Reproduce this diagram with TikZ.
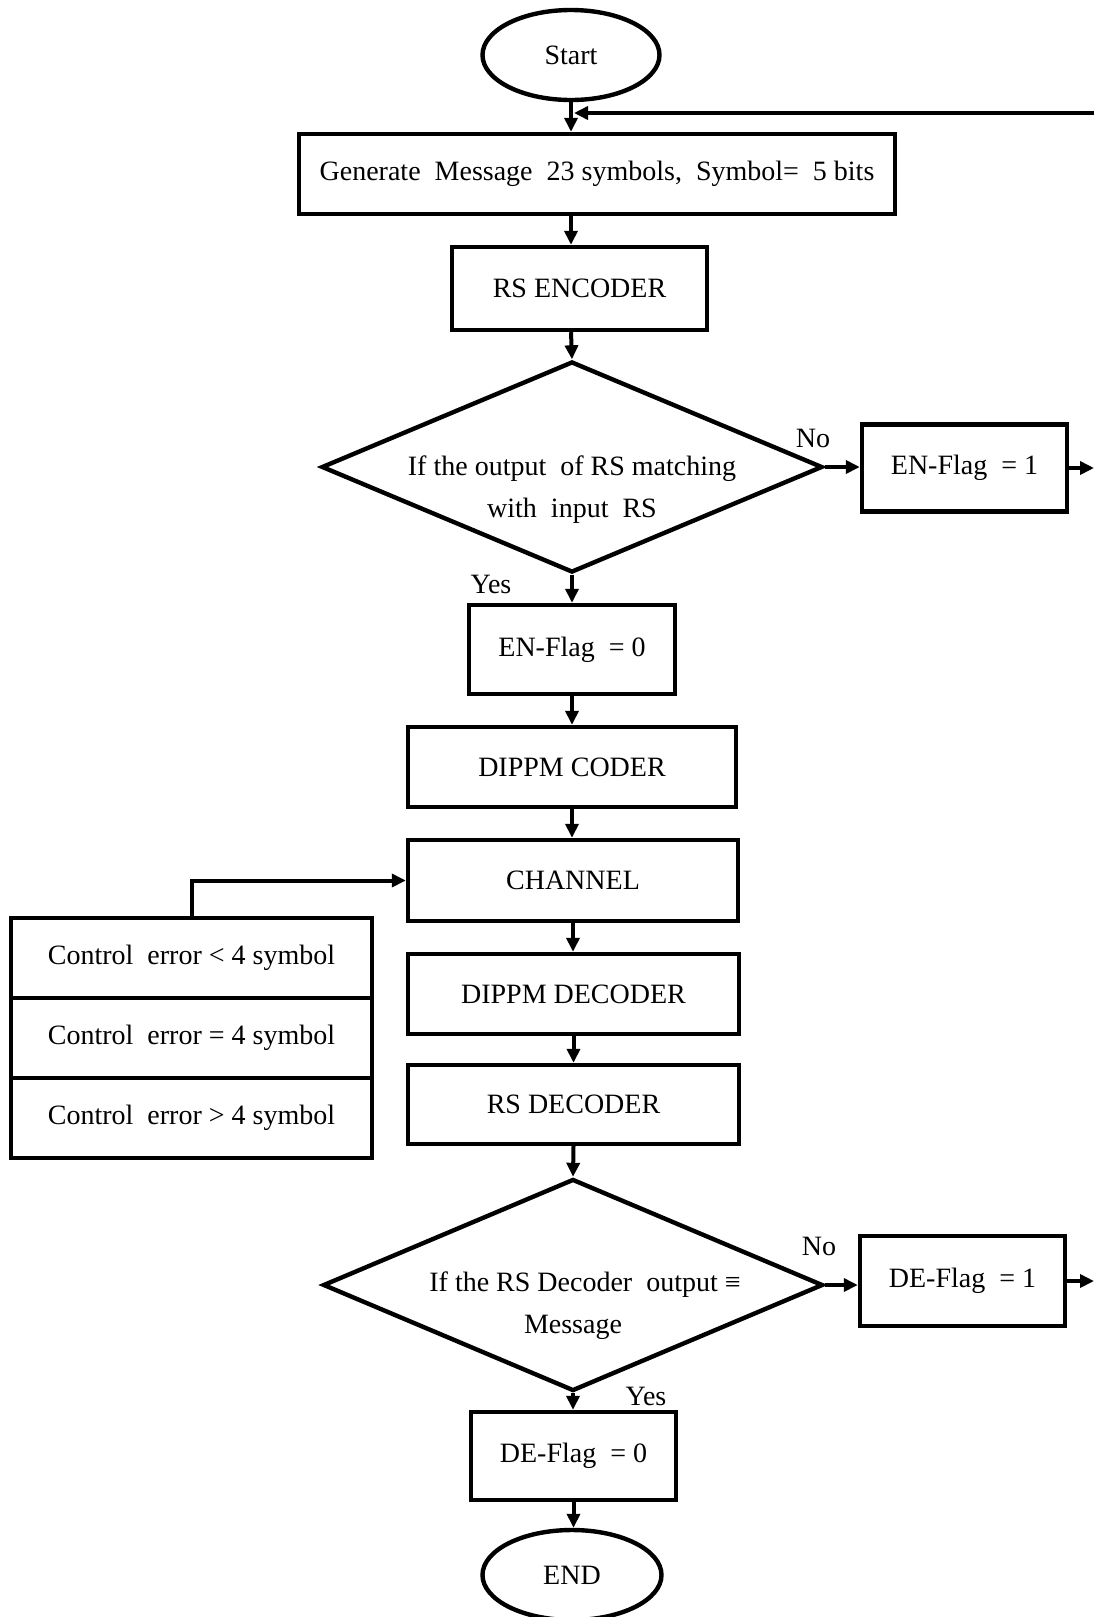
\documentclass[tikz,border=0pt]{standalone}
\usepackage{fontspec}
\setmainfont{Liberation Serif}
\usetikzlibrary{arrows.meta,shapes.geometric}
\newcommand{\fcfont}{\fontsize{14}{17}\selectfont}
% two-line text in a decision, kept out of the shape size
\newcommand{\fcdtext}[2]{\makebox[0pt]{\raisebox{#1}[0pt][0pt]{%
  \renewcommand{\arraystretch}{1.25}\begin{tabular}{@{}c@{}}#2\end{tabular}}}}
\tikzset{
  fcbox/.style ={rectangle, draw, line width=2.2pt, inner sep=0pt, font=\fcfont},
  fcterm/.style={ellipse, draw, line width=2.2pt, inner sep=0pt, font=\fcfont},
  fcdec/.style ={diamond, draw, line width=2.2pt, inner sep=0pt, font=\fcfont},
  fcarr/.style ={-{Triangle[length=7pt,width=6.5pt]}, line width=2pt},
  fclab/.style ={inner sep=0pt, font=\fcfont},
}

\begin{document}
\begin{tikzpicture}[x=0.5pt, y=-0.5pt]
  \useasboundingbox (0,0) rectangle (1094,1617);

  % main column
  \node[fcterm, minimum width=88.5pt, minimum height=45pt] (start) at (571,55) {Start};
  \node[fcbox, minimum width=298pt, minimum height=40pt] (gen) at (597,174)
    {Generate \ Message \ 23 symbols, \ Symbol= \ 5 bits};
  \node[fcbox, minimum width=127.5pt, minimum height=41.5pt] (enc) at (579.5,288.5) {RS ENCODER};
  \node[fcdec, minimum width=250.5pt, minimum height=105.5pt] (chk1) at (572,467)
    {\fcdtext{-14pt}{If the output \ of RS matching\\with \ input \ RS}};
  \node[fcbox, minimum width=103pt, minimum height=44.5pt] (enf0) at (572,649.5) {EN-Flag \ = 0};
  \node[fcbox, minimum width=164pt, minimum height=40pt] (dcod) at (572,767) {DIPPM CODER};
  \node[fcbox, minimum width=165pt, minimum height=40.5pt] (chan) at (573,880.5) {CHANNEL};
  \node[fcbox, minimum width=165.5pt, minimum height=40pt] (ddec) at (573.5,994) {DIPPM DECODER};
  \node[fcbox, minimum width=165.5pt, minimum height=39.5pt] (rsdec) at (573.5,1104.5) {RS DECODER};
  \node[fcdec, minimum width=250pt, minimum height=106pt] (chk2) at (573,1285)
    {\fcdtext{-13pt}{\hspace{12pt}If the RS Decoder \ output ≡\\Message}};
  \node[fcbox, minimum width=102.5pt, minimum height=44pt] (def0) at (573.5,1456) {DE-Flag \ = 0};
  \node[fcterm, minimum width=89.5pt, minimum height=45pt] (stop) at (572,1575) {END};

  % flags on the right
  \node[fcbox, minimum width=102.5pt, minimum height=43.5pt] (enf1) at (964.5,468) {EN-Flag \ = 1};
  \node[fcbox, minimum width=102.5pt, minimum height=45pt] (def1) at (962.5,1281) {DE-Flag \ = 1};
  \coordinate (out1) at (1094,468);
  \coordinate (out2) at (1094,1281);
  \coordinate (back) at (1094,113);

  % error control table
  \node[fcbox, minimum width=180.5pt, minimum height=40pt] (ce1) at (191.5,958)  {Control \ error < 4 symbol};
  \node[fcbox, minimum width=180.5pt, minimum height=40pt] (ce2) at (191.5,1038) {Control \ error = 4 symbol};
  \node[fcbox, minimum width=180.5pt, minimum height=40pt] (ce3) at (191.5,1118) {Control \ error > 4 symbol};

  % connectors
  \draw[fcarr] (start.south) -- (start |- gen.north);
  \draw[fcarr, shorten >=-1pt] (back) -- ([xshift=2.5pt]start |- back);
  \draw[fcarr] (start |- gen.south) -- (start |- enc.north);
  \draw[fcarr] (start |- enc.south) -- (chk1.north);
  \draw[fcarr] (chk1.south) -- (enf0.north);
  \draw[fcarr] (chk1.east) -- (chk1.east -| enf1.west);
  \draw[fcarr] (enf1.east) -- (out1);
  \draw[fcarr] (enf0.south) -- (dcod.north);
  \draw[fcarr] (dcod.south) -- (dcod.south |- chan.north);
  \draw[fcarr] (chan.south) -- (chan.south |- ddec.north);
  \draw[fcarr] (ddec.south) -- (ddec.south |- rsdec.north);
  \draw[fcarr] (rsdec.south) -- (chk2.north);
  \draw[fcarr] (chk2.south) -- (chk2.south |- def0.north);
  \draw[fcarr] (chk2.east) -- (chk2.east -| def1.west);
  \draw[fcarr] (def1.east) -- (out2);
  \draw[fcarr] (def0.south) -- (def0.south |- stop.north);
  \draw[fcarr] (ce1.north) |- (chan.west);

  % branch labels
  \node[fclab] (no1)  at (813,438)  {No};
  \node[fclab] (yes1) at (491,584)  {Yes};
  \node[fclab] (no2)  at (819,1246) {No};
  \node[fclab] (yes2) at (646,1396) {Yes};
\end{tikzpicture}
\end{document}
